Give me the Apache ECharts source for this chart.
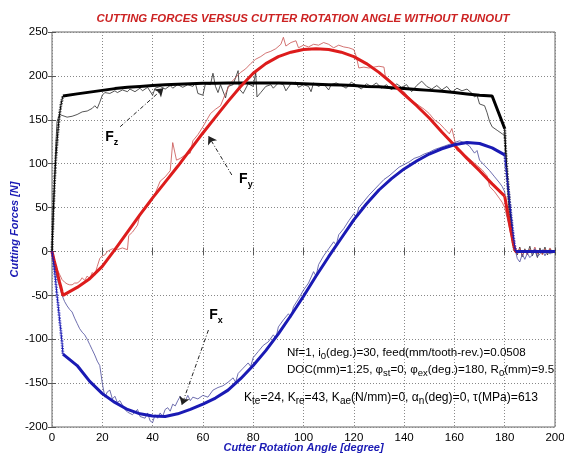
<!DOCTYPE html>
<html><head><meta charset="utf-8">
<script src="https://cdn.jsdelivr.net/npm/echarts@6/dist/echarts.min.js"></script>
<style>html,body{margin:0;padding:0;background:#fff}#c{width:564px;height:457px}</style>
</head><body><div id="c"></div>
<script>
// ---- axis ranges / ticks ----
const xMin = 0, xMax = 200, xStep = 20;
const yMin = -200, yMax = 250, yStep = 50;

// ---- model (predicted) forces ----
const modelAngle = [0,0.5,1,1.5,2,2.5,3,3.5,4,4.35,5,
  10,15,20,25,30,35,40,45,50,55,60,65,70,75,80,85,90,95,100,105,110,115,120,125,130,135,140,145,150,155,160,165,170,175,180,
  180.5,181,181.5,182,182.5,183,183.5,184,184.35,190,195,200];
const fxModel = [0,-10,-22,-35,-50,-63,-77,-90,-104,-117,-118,
  -130,-148,-162,-172,-180,-185,-187.5,-188,-185,-180,-174,-167,-158,-145,-130,-113,-94,-73,-51,-28,-6,15,36,54,70,83,94,103,111,117,121.5,124,123,118,110,
  95,82,68,55,42,29,16,6,0,0,0,0];
const fyModel = [0,-6,-12,-17,-23,-29,-35,-40,-46,-50,-49.5,
  -41,-31,-17,2,22,42,61,79,97,116,135,153,171,188,203,214,222,227,230,231,230,227,222,214,204,192,179,166,152,136,121,106,92,77,63,
  55,47,39,31,23,16,8,3,0,0,0,0];
const fzModel = [0,45,80,105,125,142,156,166,173,177,177.5,
  179.5,181.5,183.5,185.5,187,188,189,190,190.5,191,191.5,191.5,192,192,192,192,192,191.5,191,190.5,190,189.5,189,188,187.5,186.5,185.5,184.5,183.5,182.5,181,179.5,178,177,
  140,108,88,70,52,35,20,8,0,0,0,0];

// ---- measured forces [angle, N] ----
const fxMeasured = [[0,0],[0.5,-10],[1,-18],[2,-30],[3,-40],[4,-50],[5,-57],[6,-62],[7,-66],[8,-69],[9,-76],[10,-82],[11,-88],[12,-92],[13,-95],[14,-100],[15,-106],[16,-112],[17,-118],[18,-125],[19,-130],[20,-150],[21,-166],[22,-160],[23,-158],[24,-168],[25,-165],[26,-172],[27,-170],[28,-175],[29,-180],[30,-183],[32,-186],[34,-180],[35,-188],[37,-190],[38,-184],[39,-193],[40,-195],[41,-186],[42,-190],[43,-184],[44,-188],[45,-180],[46,-178],[47,-182],[48,-174],[49,-176],[50,-170],[51,-165],[52,-172],[53,-170],[54,-164],[55,-170],[56,-166],[58,-168],[60,-164],[62,-166],[64,-158],[66,-155],[68,-153],[70,-149],[72,-144],[73,-149],[74,-139],[76,-133],[78,-127],[79,-131],[80,-121],[82,-114],[84,-107],[86,-103],[88,-95],[89,-99],[90,-86],[92,-78],[94,-71],[95,-75],[96,-63],[98,-54],[100,-44],[102,-36],[104,-23],[105,-28],[106,-15],[108,-5],[110,3],[112,11],[113,7],[114,19],[116,26],[118,35],[120,43],[121,40],[122,50],[124,57],[126,64],[128,70],[130,76],[132,82],[134,86],[136,91],[138,96],[140,99],[142,102],[144,106],[146,108],[148,111],[150,113],[152,116],[154,118],[156,120],[158,122],[160,124],[162,126],[164,124],[166,120],[168,112],[169,115],[170,104],[172,98],[174,92],[176,85],[178,78],[179,74],[180,68],[180.5,55],[181,40],[182,28],[183,15],[184,4],[185,-8],[186,-12],[187,-3],[188,-9],[189,-2],[190,-7],[191,-4],[192,3],[193,-6],[194,-3],[195,2],[196,-5],[197,1],[198,-3],[199,-1],[200,0]];
const fyMeasured = [[0,0],[0.5,-8],[1,-12],[2,-20],[3,-26],[4,-32],[5,-35],[6,-37],[7,-38],[8,-38],[9,-36],[10,-36],[11,-34],[12,-30],[13,-33],[14,-28],[15,-31],[16,-24],[17,-27],[18,-17],[19,-8],[20,-5],[21,-4],[22,0],[24,3],[26,2],[28,4],[30,2],[30.5,18],[32,22],[34,30],[35,42],[37,48],[39,55],[41,66],[43,80],[45,85],[47,92],[48,124],[49.5,104],[51,106],[53,110],[55,112],[56,126],[58,133],[60,142],[62,152],[63,157],[65,162],[67,166],[69,180],[71,192],[73,198],[75,204],[77,208],[79,214],[81,219],[83,222],[85,226],[87,228],[89,231],[91,236],[92,244],[93,234],[95,238],[97,240],[98,232],[100,235],[102,233],[104,236],[106,235],[108,238],[110,236],[112,232],[114,235],[116,233],[118,232],[120,230],[121,222],[122,209],[124,210],[126,209],[128,210],[130,211],[132,210],[132.5,200],[134,196],[136,190],[138,185],[140,182],[142,175],[144,170],[146,166],[148,162],[150,157],[152,150],[154,146],[156,140],[158,134],[159,140],[160,128],[161,115],[163,112],[165,108],[167,103],[169,98],[171,93],[173,86],[174,74],[176,68],[178,60],[179,56],[180,50],[181,38],[182,25],[183,12],[184,2],[185,-3],[186,4],[187,-5],[188,2],[189,-4],[190,3],[191,-2],[192,5],[193,-3],[194,2],[195,-4],[196,3],[197,-2],[198,4],[199,-1],[200,0]];
const fzMeasured = [[0,0],[0.8,60],[1.5,120],[2,148],[3,156],[4,155],[6,153],[8,154],[10,156],[12,159],[14,160],[16,163],[17,166],[18,163],[19,170],[20,178],[21,181],[23,180],[25,183],[26,181],[28,184],[30,182],[31,185],[33,182],[35,186],[36,183],[38,187],[40,178],[41,186],[43,188],[45,185],[47,189],[48,186],[50,190],[52,187],[54,190],[56,188],[57,192],[58,180],[60,178],[61,191],[63,190],[64,203],[65,188],[66,181],[67,190],[69,175],[70,188],[72,190],[74,206],[74.5,185],[76,180],[78,191],[80,188],[81,204],[81.5,176],[83,181],[85,188],[87,190],[88,186],[90,192],[92,190],[93,183],[95,191],[97,193],[98,187],[100,190],[102,188],[103,182],[104,192],[106,188],[108,191],[110,184],[111,190],[113,192],[115,189],[117,186],[119,193],[121,189],[123,185],[125,191],[127,188],[129,192],[131,186],[133,190],[135,184],[137,191],[139,187],[141,190],[143,182],[145,189],[147,194],[149,188],[151,185],[153,189],[155,184],[157,188],[159,181],[161,186],[163,183],[165,185],[167,180],[168,176],[169,178],[170,168],[172,166],[173,158],[174,148],[175,142],[177,138],[179,134],[180,132],[180.5,110],[181,80],[181.5,55],[182,35],[183,15],[184,3],[185,-4],[186,5],[187,-6],[188,3],[189,-3],[190,6],[191,-5],[192,2],[193,-7],[194,4],[195,-3],[196,5],[197,-4],[198,3],[199,-2],[200,1]];

// ---- annotation texts / positions (data coords) ----
const titleText = 'CUTTING FORCES VERSUS CUTTER ROTATION ANGLE WITHOUT RUNOUT';
const xName = 'Cutter Rotation Angle [degree]';
const yName = 'Cutting Forces [N]';
const infoLines = [
  'Nf=1, i{s|0}(deg.)=30, feed(mm/tooth-rev.)=0.0508',
  'DOC(mm)=1.25, \u03c6{s|st}=0, \u03c6{s|ex}(deg.)=180, R{s|0}(mm)=9.5',
  'K{s|te}=24, K{s|re}=43, K{s|ae}(N/mm)=0, \u03b1{s|n}(deg)=0, \u03c4(MPa)=613'
];
const labels = [
  {sub:'z', at:[21.2,130.4]},
  {sub:'y', at:[74.4,82.6]},
  {sub:'x', at:[62.5,-72.4]}
];
const arrows = [
  [[27.1,142.1],[44.3,185.9]],
  [[71.5,87.1],[62.2,131.5]],
  [[62.2,-89.5],[51.6,-174.9]]
];

const FONT = 'Liberation Sans, Arial, sans-serif';
const RED = '#dd1c1c', RED_T = '#c8504f';
const BLUE = '#1a1ab4', BLUE_T = '#4a4a9a';
const BLACK = '#000000', BLACK_T = '#2a2a2a';

function seg(ys, lo, hi){ return modelAngle.map((x,i)=>[x, ys[i]]).filter(p=>p[0]>=lo && p[0]<=hi); }
function thick(data, color){ return {type:'line', data, showSymbol:false, silent:true, animation:false, lineStyle:{color, width:3}, z:5}; }
function dotted(data, color){ return [
  {type:'line', data, showSymbol:false, silent:true, animation:false, lineStyle:{color, width:1}, z:5},
  {type:'line', data, showSymbol:false, silent:true, animation:false, lineStyle:{color, width:3, type:[0.55,1.1], cap:'butt'}, z:5}
]; }
function thin(data, color){ return {type:'line', data, showSymbol:false, silent:true, animation:false, lineStyle:{color, width:0.8}, z:3}; }

const chart = echarts.init(document.getElementById('c'), null, {renderer:'canvas'});
const series = [
  thin(fzMeasured, BLACK_T),
  thin(fyMeasured, RED_T),
  thin(fxMeasured, BLUE_T),
  thick(seg(fzModel,4.35,180), BLACK),
  ...dotted(seg(fzModel,0,4.35), BLACK),
  ...dotted(seg(fzModel,180,184.35), BLACK),
  thick(seg(fzModel,184.35,200), BLACK),
  thick(seg(fyModel,0,180), RED),
  thick(seg(fyModel,180,200), RED),
  thick(seg(fxModel,4.35,180), BLUE),
  ...dotted(seg(fxModel,0,4.35), BLUE),
  ...dotted(seg(fxModel,180,184.35), BLUE),
  thick(seg(fxModel,184.35,200), BLUE)
];
series.push({
  type:'line', data:[], silent:true, animation:false,
  markLine:{ silent:true, animation:false, symbol:['none','arrow'], symbolSize:8,
    label:{show:false}, lineStyle:{color:'#222', width:1, type:[4,2,1,2]},
    emphasis:{disabled:true},
    data: arrows.map(a=>[{coord:a[0]},{coord:a[1]}]) }
});

const tickStyle = {show:true, inside:true, length:4, lineStyle:{color:'#555'}};
chart.setOption({
  animation:false,
  grid:{left:52, right:9, top:32, bottom:30, show:true, borderColor:'#666', borderWidth:1, outerBoundsMode:'none', containLabel:false},
  xAxis:[{type:'value', min:xMin, max:xMax, interval:xStep,
    name:xName, nameLocation:'middle', nameGap:21, nameMoveOverlap:false,
    nameTextStyle:{color:'#1a1ab4', fontFamily:FONT, fontSize:11, fontWeight:'bold', fontStyle:'italic', verticalAlign:'middle'},
    axisLine:{show:false}, axisTick:tickStyle,
    axisLabel:{color:'#000', fontFamily:FONT, fontSize:11.5, margin:5, showMaxLabel:true, showMinLabel:true},
    splitLine:{show:true, lineStyle:{color:'#888', width:1, type:[1,2]}}},
    {type:'value', position:'top', min:xMin, max:xMax, interval:xStep,
    axisLine:{show:false}, axisTick:tickStyle, axisLabel:{show:false}, splitLine:{show:false}}],
  yAxis:[{type:'value', min:yMin, max:yMax, interval:yStep,
    name:yName, nameLocation:'middle', nameGap:37, nameMoveOverlap:false,
    nameTextStyle:{color:'#1a1ab4', fontFamily:FONT, fontSize:11, fontWeight:'bold', fontStyle:'italic', verticalAlign:'middle'},
    axisLine:{show:false}, axisTick:tickStyle,
    axisLabel:{color:'#000', fontFamily:FONT, fontSize:11.5, margin:4},
    splitLine:{show:true, lineStyle:{color:'#888', width:1, type:[1,2]}}},
    {type:'value', position:'right', min:yMin, max:yMax, interval:yStep,
    axisLine:{show:false}, axisTick:tickStyle, axisLabel:{show:false}, splitLine:{show:false}}],
  series
});

const graphics = [];
graphics.push({type:'text', x:303, y:19, silent:true, style:{text:titleText, fill:'#cc2222', font:'italic bold 11.4px '+FONT, align:'center', verticalAlign:'middle'}});
const richInfo = {
  s:{fontSize:9.5, fontFamily:FONT, verticalAlign:'bottom', lineHeight:10, fill:'#000'}
};
const richInfo3 = {
  s:{fontSize:10, fontFamily:FONT, verticalAlign:'bottom', lineHeight:10, fill:'#000'}
};
graphics.push({type:'text', x:287, y:344, silent:true, style:{text:infoLines[0]+'\n'+infoLines[1], fontSize:11.6, fontFamily:FONT, lineHeight:17, fill:'#000', rich:richInfo}});
graphics.push({type:'text', x:244, y:389, silent:true, style:{text:infoLines[2], fontSize:12.1, fontFamily:FONT, lineHeight:17, fill:'#000', rich:richInfo3}});
labels.forEach(l=>{
  const p = chart.convertToPixel({gridIndex:0}, l.at);
  graphics.push({type:'text', x:p[0], y:p[1], silent:true, style:{
    text:'{f|F}{s|'+l.sub+'}', align:'left', verticalAlign:'middle',
    rich:{ f:{fontSize:14, fontWeight:'bold', fontFamily:FONT, lineHeight:20, fill:'#000'},
           s:{fontSize:9, fontWeight:'bold', fontFamily:FONT, lineHeight:11, verticalAlign:'bottom', fill:'#000'} }
  }});
});
chart.setOption({graphic:graphics});
</script></body></html>
